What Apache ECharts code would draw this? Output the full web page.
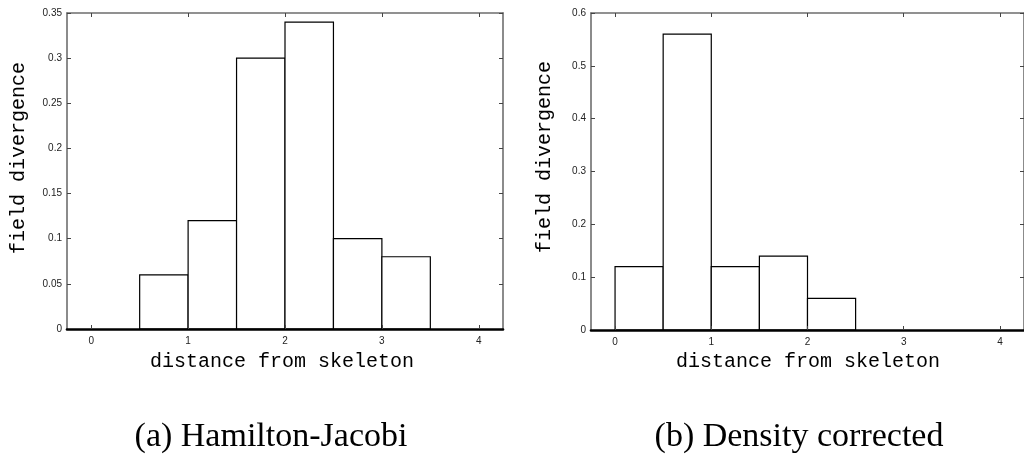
<!DOCTYPE html>
<html><head><meta charset="utf-8">
<script src="https://cdn.jsdelivr.net/npm/echarts@6/dist/echarts.min.js"></script>
<style>html,body{margin:0;padding:0;background:#fff}#c{width:1024px;height:455px}</style>
</head><body><div id="c"></div><script>
// ---- data ----
const binStartsA = [0.5, 1, 1.5, 2, 2.5, 3];
const valuesA = [0.06, 0.12, 0.30, 0.34, 0.10, 0.08];
const binStartsB = [0, 0.5, 1, 1.5, 2];
const valuesB = [0.12, 0.56, 0.12, 0.14, 0.06];
const binWidth = 0.5;
const xTickValues = [0, 1, 2, 3, 4];
const xTitle = 'distance from skeleton';
const yTitle = 'field divergence';
const captionA = '(a) Hamilton-Jacobi';
const captionB = '(b) Density corrected';

const chart = echarts.init(document.getElementById('c'), null, {renderer: 'canvas'});
const frameColor = '#6e6e6e';
const labelStyle = {color: '#222', fontSize: 10, fontFamily: 'Liberation Sans, Arial, sans-serif'};

function renderBar(params, api) {
  const x0 = api.value(0), y = api.value(1);
  const p0 = api.coord([x0, y]);
  const p1 = api.coord([x0 + binWidth, 0]);
  return {type: 'rect', shape: {x: p0[0], y: p0[1], width: p1[0] - p0[0], height: p1[1] - p0[1]},
    style: {fill: '#fff', stroke: '#000', lineWidth: 1.2}};
}
function xAxisCfg(g, pos) {
  const bottom = pos === 'bottom';
  return {type: 'value', gridIndex: g, position: pos, min: -0.25, max: 4.25, z: bottom ? 5 : 3,
    splitLine: {show: false},
    axisLine: {onZero: false, lineStyle: {color: bottom ? '#000' : frameColor, width: bottom ? 2.6 : 1.6}},
    axisTick: {show: true, inside: true, length: 4, customValues: xTickValues, lineStyle: {color: '#444', width: 1}},
    axisLabel: {show: bottom, customValues: xTickValues, margin: 7, ...labelStyle}};
}
function yAxisCfg(g, pos, max, interval) {
  const left = pos === 'left';
  return {type: 'value', gridIndex: g, position: pos, min: 0, max: max, interval: interval, z: 3,
    splitLine: {show: false},
    axisLine: {onZero: false, lineStyle: {color: frameColor, width: 1.6}},
    axisTick: {show: true, inside: true, length: 4, lineStyle: {color: '#444', width: 1}},
    axisLabel: {show: left, margin: 5, ...labelStyle}};
}
const monoFont = '20px "Liberation Mono", "Courier New", monospace';
const serifFont = '34px "Liberation Serif", "DejaVu Serif", serif';

chart.setOption({
  animation: false,
  backgroundColor: '#fff',
  grid: [
    {left: 67, top: 13, width: 436, height: 316},
    {left: 591, top: 13, width: 440, height: 317}
  ],
  xAxis: [xAxisCfg(0, 'bottom'), xAxisCfg(0, 'top'), xAxisCfg(1, 'bottom'), xAxisCfg(1, 'top')],
  yAxis: [yAxisCfg(0, 'left', 0.35, 0.05), yAxisCfg(0, 'right', 0.35, 0.05),
          yAxisCfg(1, 'left', 0.6, 0.1), yAxisCfg(1, 'right', 0.6, 0.1)],
  series: [
    {type: 'custom', xAxisIndex: 0, yAxisIndex: 0, renderItem: renderBar, encode: {x: 0, y: 1}, z: 2,
      data: binStartsA.map((s, i) => [s, valuesA[i]])},
    {type: 'custom', xAxisIndex: 2, yAxisIndex: 2, renderItem: renderBar, encode: {x: 0, y: 1}, z: 2,
      data: binStartsB.map((s, i) => [s, valuesB[i]])}
  ],
  graphic: [
    {type: 'text', x: 19, y: 158, rotation: Math.PI / 2,
      style: {text: yTitle, font: monoFont, fill: '#000', textAlign: 'center', textVerticalAlign: 'middle'}},
    {type: 'text', x: 545, y: 157, rotation: Math.PI / 2,
      style: {text: yTitle, font: monoFont, fill: '#000', textAlign: 'center', textVerticalAlign: 'middle'}},
    {type: 'text', x: 282, y: 362,
      style: {text: xTitle, font: monoFont, fill: '#000', textAlign: 'center', textVerticalAlign: 'middle'}},
    {type: 'text', x: 808, y: 362,
      style: {text: xTitle, font: monoFont, fill: '#000', textAlign: 'center', textVerticalAlign: 'middle'}},
    {type: 'text', x: 271, y: 437,
      style: {text: captionA, font: serifFont, fill: '#000', textAlign: 'center', textVerticalAlign: 'middle'}},
    {type: 'text', x: 799, y: 437,
      style: {text: captionB, font: serifFont, fill: '#000', textAlign: 'center', textVerticalAlign: 'middle'}}
  ]
});
</script></body></html>
